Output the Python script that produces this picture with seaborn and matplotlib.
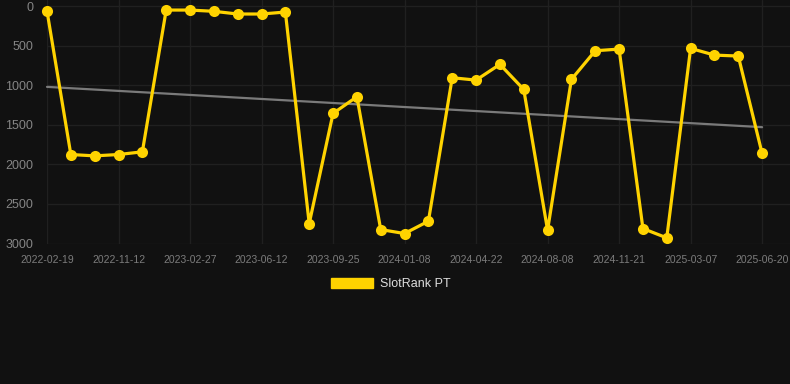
import numpy as np
import pandas as pd
import matplotlib
matplotlib.use("Agg")
import matplotlib.pyplot as plt
from matplotlib.patches import Patch
import seaborn as sns

# ---- data ----
dates = ["2022-02-19", "2022-05-17", "2022-08-15", "2022-11-12", "2022-12-18",
         "2023-01-23", "2023-02-27", "2023-04-02", "2023-05-08", "2023-06-12",
         "2023-07-17", "2023-08-21", "2023-09-25", "2023-10-30", "2023-12-04",
         "2024-01-08", "2024-02-12", "2024-03-18", "2024-04-22", "2024-05-28",
         "2024-07-03", "2024-08-08", "2024-09-12", "2024-10-17", "2024-11-21",
         "2024-12-26", "2025-01-30", "2025-03-07", "2025-04-11", "2025-05-16",
         "2025-06-20"]
ranks = [63, 1876, 1893, 1876, 1842, 51, 51, 67, 101, 101,
         76, 2748, 1357, 1146, 2824, 2874, 2718, 906, 936, 737,
         1054, 2832, 927, 565, 544, 2811, 2929, 535, 620, 632,
         1863]
series_name = "SlotRank PT"
y_ticks = [0, 500, 1000, 1500, 2000, 2500, 3000]

BG = "#111111"
GOLD = "#FFD300"
GRID = "#202020"

sns.set_theme(style="dark")
plt.rcParams["font.family"] = ["Liberation Sans", "DejaVu Sans"]

df = pd.DataFrame({"idx": np.arange(len(dates)), "date": dates, "rank": ranks})

fig = plt.figure(figsize=(7.9, 3.84), dpi=100, facecolor=BG)
ax = fig.add_axes([47 / 790, 1 - 243.5 / 384, 1 - 47 / 790, 243.5 / 384])
ax.set_facecolor(BG)

# trend line (linear regression)
coef = np.polyfit(df["idx"], df["rank"], 1)
trend = np.polyval(coef, df["idx"])
sns.lineplot(x=df["idx"], y=trend, ax=ax, color="#7a7a7a", linewidth=1.6, zorder=2)

sns.lineplot(data=df, x="idx", y="rank", ax=ax, color=GOLD, linewidth=2.3,
             marker="o", markersize=8, markeredgewidth=0, zorder=3)
for ln in ax.lines:
    ln.set_clip_on(False)

ax.set_xlim(0, 31.17)
ax.set_ylim(3000, -76)
ax.set_yticks(y_ticks)
ax.set_yticklabels([str(v) for v in y_ticks], fontsize=9, color="#858585")
xt = list(range(0, len(dates), 3))
ax.set_xticks(xt)
ax.set_xticklabels([dates[i] for i in xt], fontsize=7.5, color="#7c7c7c")
ax.tick_params(axis="both", length=0)
ax.tick_params(axis="y", pad=10)
ax.tick_params(axis="x", pad=8)
ax.set_xlabel("")
ax.set_ylabel("")
ax.grid(True, color=GRID, linewidth=1.0)
for s in ax.spines.values():
    s.set_visible(False)

handle = Patch(facecolor=GOLD, edgecolor=GOLD)
leg = fig.legend([handle], [series_name], loc="center", bbox_to_anchor=(391 / 790, 1 - 284 / 384),
                 frameon=False, fontsize=9, handlelength=3.33, handleheight=0.92,
                 handletextpad=0.6, labelcolor="#dddddd")

fig.savefig("out.png", dpi=100, facecolor=BG)
